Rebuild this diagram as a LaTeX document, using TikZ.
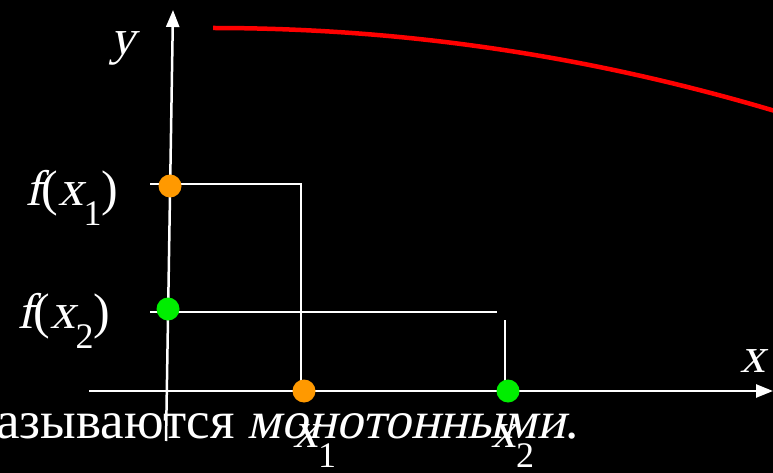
\documentclass[tikz,border=0pt]{standalone}
\usepackage{fontspec}
\setmainfont{Liberation Serif}
\newfontfamily\slantfont[FakeSlant=0.22]{Liberation Serif}
\usetikzlibrary{arrows.meta, positioning}
\definecolor{dotorange}{HTML}{FF9900}
\definecolor{dotgreen}{HTML}{00EE00}
\definecolor{curvered}{HTML}{FF0000}
\newcommand{\slnt}[1]{{\slantfont #1}}
\newcommand{\lowidx}[1]{\raisebox{-20pt}{\fontsize{36}{40}\selectfont #1}}

\begin{document}
\begin{tikzpicture}[x=1pt, y=-1pt,
  dot/.style={circle, minimum size=23pt, inner sep=0pt},
  axis/.style={white, line width=2.5pt, -{Triangle[length=17pt, width=13pt]}},
  guide/.style={white, line width=2pt},
  lbl/.style={text=white, font=\fontsize{50}{56}\selectfont, inner sep=0pt}
]
  \fill[black] (0,0) rectangle (773,473);
  \useasboundingbox (0,0) rectangle (773,473);

  % --- axes ---
  \coordinate (yfoot) at (166,441);
  \coordinate (ytop) at (173,10);
  \coordinate (xfoot) at (89,391);
  \coordinate (xtip) at (773,391);
  \draw[axis] (yfoot) -- (ytop);
  \draw[axis] (xfoot) -- (xtip);

  % --- curve ---
  \coordinate (ra) at (213,28);
  \coordinate (rb) at (775,111);
  \draw[curvered, line width=4.5pt] (ra) .. controls (400,28) and (587,55) .. (rb);

  % --- guides ---
  \coordinate (pa) at (170,186);
  \coordinate (pb) at (168,309);
  \coordinate (qa) at (304,391);
  \coordinate (qb) at (508,391);
  \coordinate (ta) at (150,184);
  \coordinate (ca) at (301,184);
  \coordinate (tb) at (150,312);
  \coordinate (cb) at (497,312);
  \coordinate (vb) at (505,320);
  \draw[guide] (ta) -- (ca) -- (ca |- 0,381);
  \draw[guide] (tb) -- (cb);
  \draw[guide] (vb) -- (vb |- 0,381);

  % --- points ---
  \node[dot, fill=dotorange] (fa) at (pa) {};
  \node[dot, fill=dotgreen] (fb) at (pb) {};
  \node[dot, fill=dotorange] (xa) at (qa) {};
  \node[dot, fill=dotgreen] (xb) at (qb) {};

  % --- labels ---
  \node[lbl, anchor=base west] (ylab) at (110,55) {\slnt{y}};
  \node[lbl, anchor=base west] (xlab) at (740,372) {\slnt{x}};
  \node[lbl, anchor=base west] (fxa) at (25,205) {\slnt{f}(\slnt{x}\lowidx{1})};
  \node[lbl, anchor=base west] (fxb) at (17,328) {\slnt{f}(\slnt{x}\lowidx{2})};
  \node[lbl, anchor=base west] (xalab) at (293,447) {\slnt{x}\lowidx{1}};
  \node[lbl, anchor=base west] (xblab) at (491,447) {\slnt{x}\lowidx{2}};

  % --- text ---
  \node[lbl, font=\fontsize{53}{58}\selectfont, anchor=base west] (note) at (-4,438)
    {азываются \slnt{монотонными}.};
\end{tikzpicture}
\end{document}
